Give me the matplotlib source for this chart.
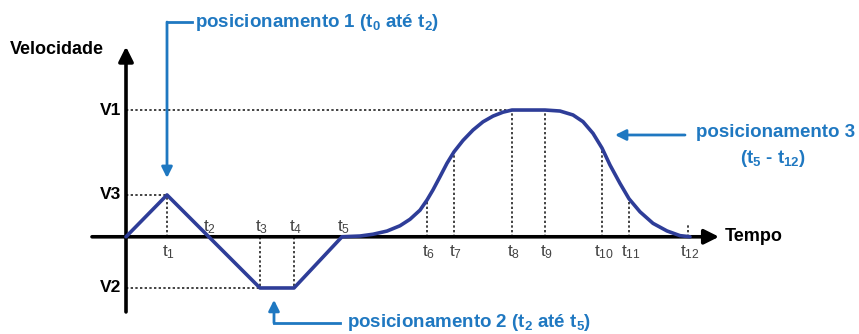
import matplotlib
matplotlib.use("Agg")
from matplotlib import pyplot as plt

plt.rcParams['font.family'] = ['Liberation Sans', 'DejaVu Sans']
plt.rcParams['mathtext.fontset'] = 'custom'
plt.rcParams['mathtext.rm'] = 'Liberation Sans'
plt.rcParams['mathtext.bf'] = 'Liberation Sans:bold'
plt.rcParams['mathtext.it'] = 'Liberation Sans'

# velocity levels
V1 = 1.0
V3 = 0.33
V2 = -0.404

# time marks t1..t12
t_marks = [4.1, 8.2, 13.4, 16.8, 21.6, 30.1, 32.8, 38.6, 41.9, 47.6, 50.3, 56.2]
t_names = ["1", "2", "3", "4", "5", "6", "7", "8", "9", "10", "11", "12"]
t_above = [False, True, True, True, True, False, False, False, False, False, False, False]
# height of dotted guide at each mark (None = no guide)
guide_h = [V3, None, V2, V2, None, 0.29, 0.67, V1, V1, 0.70, 0.30, 0.09]

# velocity profile
prof_t = [0, 4.1, 13.4, 16.8, 21.6,
          23.4, 24.7, 26.1, 27.4, 28.4, 29.4, 30.1, 30.7, 31.4, 32.1, 32.8,
          33.7, 34.7, 35.7, 36.7, 37.7, 38.6,
          41.9, 43.4, 44.7, 45.7, 46.7, 47.6, 48.4, 49.4, 50.3, 51.4, 52.7,
          54.1, 55.4, 56.4]
prof_v = [0, V3, V2, V2, 0,
          0.006, 0.02, 0.045, 0.087, 0.138, 0.21, 0.29, 0.37, 0.474, 0.58, 0.67,
          0.76, 0.842, 0.907, 0.952, 0.983, 1.0,
          1.0, 0.992, 0.961, 0.908, 0.816, 0.70, 0.566, 0.421, 0.30, 0.197, 0.106,
          0.046, 0.009, 0]

level_names = ["V1", "V3", "V2"]
level_vals = [V1, V3, V2]
level_ends = [t_marks[7], t_marks[0], t_marks[2]]

blue = '#1f78c1'
curve_col = '#2e3d98'
dot = dict(color='#222222', lw=1.2, ls=(0, (1.4, 1.4)))

fig = plt.figure(figsize=(8.59, 3.34), dpi=100)
ax = fig.add_axes([0, 0, 1, 1])
ax.set_xlim(-12.6, 73.3)
ax.set_ylim(-0.767, 1.868)
ax.axis('off')

# dotted guides
for name, val, end in zip(level_names, level_vals, level_ends):
    ax.plot([0, end], [val, val], **dot)
    ax.text(-0.5, val, name, ha='right', va='center', fontsize=12.5, fontweight='bold')
for tm, h in zip(t_marks, guide_h):
    if h is not None:
        ax.plot([tm, tm], [0, h], **dot)

# axes with arrows
ax.annotate('', xy=(59.3, 0), xytext=(-3.4, 0),
            arrowprops=dict(arrowstyle='-|>', color='black', lw=2.6, mutation_scale=22,
                            shrinkA=0, shrinkB=0))
ax.annotate('', xy=(0, 1.50), xytext=(0, -0.593),
            arrowprops=dict(arrowstyle='-|>', color='black', lw=2.6, mutation_scale=22,
                            shrinkA=0, shrinkB=0))
ax.text(-11.6, 1.481, "Velocidade", ha='left', va='center', fontsize=13, fontweight='bold')
ax.text(59.9, 0.0, "Tempo", ha='left', va='center', fontsize=13, fontweight='bold')

# velocity profile
ax.plot(prof_t, prof_v, color=curve_col, lw=2.6, solid_joinstyle='round',
        solid_capstyle='round', zorder=5)

# time labels
for tm, nm, up in zip(t_marks, t_names, t_above):
    y = 0.077 if up else -0.12
    ax.text(tm + 0.2, y, r'$\mathrm{t}_{%s}$' % nm, ha='center', va='center',
            fontsize=12.5, color='#444444')

# annotations
ax.plot([4.1, 6.6], [1.694, 1.694], color=blue, lw=2)
ax.annotate('', xy=(4.1, 0.464), xytext=(4.1, 1.694),
            arrowprops=dict(arrowstyle='-|>', color=blue, lw=2, mutation_scale=16,
                            shrinkA=0, shrinkB=0))
ax.text(6.9, 1.694, r'posicionamento 1 ($\mathbf{t}_\mathbf{0}$ até $\mathbf{t}_\mathbf{2}$)',
        ha='left', va='center', fontsize=13.5, fontweight='bold', color=blue)

ax.plot([14.8, 21.4], [-0.68, -0.68], color=blue, lw=2)
ax.annotate('', xy=(14.8, -0.498), xytext=(14.8, -0.68),
            arrowprops=dict(arrowstyle='-|>', color=blue, lw=2, mutation_scale=16,
                            shrinkA=0, shrinkB=0))
ax.text(22.1, -0.68, r'posicionamento 2 ($\mathbf{t}_\mathbf{2}$ até $\mathbf{t}_\mathbf{5}$)',
        ha='left', va='center', fontsize=13.5, fontweight='bold', color=blue)

ax.annotate('', xy=(48.9, 0.803), xytext=(55.9, 0.803),
            arrowprops=dict(arrowstyle='-|>', color=blue, lw=2, mutation_scale=16,
                            shrinkA=0, shrinkB=0))
ax.text(72.9, 0.826, "posicionamento 3", ha='right', va='center', fontsize=13.5,
        fontweight='bold', color=blue)
ax.text(64.7, 0.614, r'($\mathbf{t}_\mathbf{5}$ - $\mathbf{t}_\mathbf{12}$)', ha='center',
        va='center', fontsize=13.5, fontweight='bold', color=blue)

fig.savefig("out.png", dpi=100)
